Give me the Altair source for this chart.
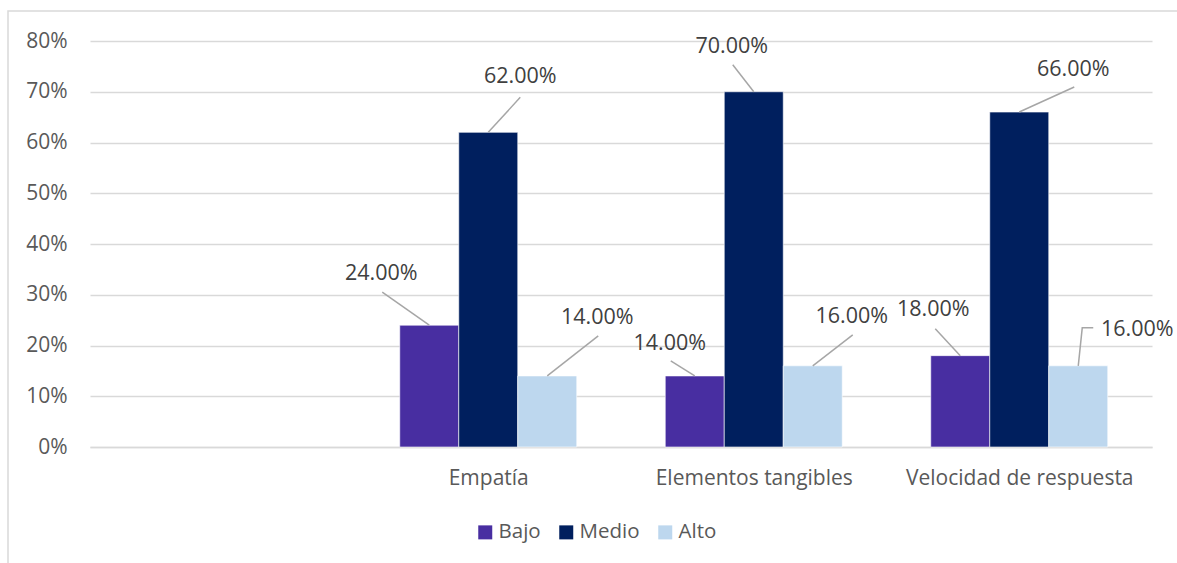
import altair as alt
import pandas as pd

# ---- data ----
categories = ["", "Empatía", "Elementos tangibles", "Velocidad de respuesta"]
series = ["Bajo", "Medio", "Alto"]
bajo = [None, 0.24, 0.14, 0.18]
medio = [None, 0.62, 0.70, 0.66]
alto = [None, 0.14, 0.16, 0.16]
colors = ["#482EA1", "#001F5E", "#BDD7EE"]

# ---- label placement (pixel offsets from each bar's top centre) ----
leader_pts = {
    ("Empatía", "Bajo"): [(-47, -33)],
    ("Empatía", "Medio"): [(32, -35)],
    ("Empatía", "Alto"): [(51, -40)],
    ("Elementos tangibles", "Bajo"): [(-24, -15)],
    ("Elementos tangibles", "Medio"): [(-21, -27)],
    ("Elementos tangibles", "Alto"): [(40, -31)],
    ("Velocidad de respuesta", "Bajo"): [(-25, -27)],
    ("Velocidad de respuesta", "Medio"): [(55, -25)],
    ("Velocidad de respuesta", "Alto"): [(4, -38), (15, -38)],
}
label_pos = {
    ("Empatía", "Bajo"): (-48, -51),
    ("Empatía", "Medio"): (32, -55),
    ("Empatía", "Alto"): (50, -58),
    ("Elementos tangibles", "Bajo"): (-25, -32),
    ("Elementos tangibles", "Medio"): (-22, -45),
    ("Elementos tangibles", "Alto"): (39, -49),
    ("Velocidad de respuesta", "Bajo"): (-27, -46),
    ("Velocidad de respuesta", "Medio"): (54, -42),
    ("Velocidad de respuesta", "Alto"): (59, -36),
}

W, H = 1062, 406
YMAX = 0.8
BAR_W = 2 / 9  # fraction of a category slot
px_x = W / len(categories)  # pixels per category unit
px_y = H / YMAX             # pixels per value unit

values = {"Bajo": bajo, "Medio": medio, "Alto": alto}
bars, lines, labels = [], [], []
for i, cat in enumerate(categories):
    for s, ser in enumerate(series):
        v = values[ser][i]
        if v is None:
            continue
        xc = i + 0.5 + (s - 1) * BAR_W
        bars.append({"cat": cat, "series": ser, "x": xc - BAR_W / 2,
                     "x2": xc + BAR_W / 2, "v": v, "base": 0.0})
        key = (cat, ser)
        pts = [(0, 0)] + leader_pts[key]
        for k, (dx, dy) in enumerate(pts):
            lines.append({"id": f"{cat}-{ser}", "k": k,
                          "x": xc + dx / px_x, "y": v - dy / px_y})
        lx, ly = label_pos[key]
        labels.append({"x": xc + lx / px_x, "y": v - ly / px_y,
                       "t": f"{v * 100:.2f}%"})

bars_df = pd.DataFrame(bars)
lines_df = pd.DataFrame(lines)
labels_df = pd.DataFrame(labels)

FONT = "Open Sans"
xscale = alt.Scale(domain=[0, len(categories)], nice=False, zero=False)
yscale = alt.Scale(domain=[0, YMAX], nice=False)

label_expr = " : ".join(
    f"datum.value == {i + 0.5} ? '{c}'" for i, c in enumerate(categories)
) + " : ''"

bar_layer = alt.Chart(bars_df).mark_bar(stroke="white", strokeWidth=0.6).encode(
    x=alt.X("x:Q", scale=xscale,
            axis=alt.Axis(values=[i + 0.5 for i in range(len(categories))],
                          labelExpr=label_expr, title=None, grid=False,
                          ticks=False, domain=True, domainColor="#D9D9D9",
                          domainWidth=1.5, labelLimit=500,
                          labelFont=FONT, labelFontSize=21, labelColor="#595959",
                          labelPadding=20)),
    x2="x2:Q",
    y=alt.Y("v:Q", scale=yscale,
            axis=alt.Axis(values=[i / 10 for i in range(9)], format=".0%",
                          title=None, domain=False, ticks=False,
                          gridColor="#D9D9D9", gridWidth=1.5,
                          labelFont=FONT, labelFontSize=21, labelColor="#595959",
                          labelPadding=23)),
    y2="base:Q",
    color=alt.Color("series:N",
                    scale=alt.Scale(domain=series, range=colors),
                    legend=alt.Legend(title=None, orient="none",
                                      direction="horizontal",
                                      legendX=385, legendY=481,
                                      symbolType="square", symbolSize=196,
                                      symbolStrokeWidth=0, labelOffset=3,
                                      columnPadding=15, padding=0,
                                      labelFont=FONT, labelFontSize=20.5,
                                      labelColor="#595959")),
)

line_layer = alt.Chart(lines_df).mark_line(color="#A6A6A6", strokeWidth=1.5).encode(
    x=alt.X("x:Q", scale=xscale),
    y=alt.Y("y:Q", scale=yscale),
    detail="id:N",
    order="k:O",
)

text_layer = alt.Chart(labels_df).mark_text(
    font=FONT, fontSize=21.5, color="#404040", baseline="middle", align="center"
).encode(
    x=alt.X("x:Q", scale=xscale),
    y=alt.Y("y:Q", scale=yscale),
    text="t:N",
)

frame = alt.Chart(pd.DataFrame({"a": [0]})).mark_rect(
    fill=None, stroke="#D9D9D9", strokeWidth=1.5
).encode(
    x=alt.value(-82), x2=alt.value(1120), y=alt.value(-30), y2=alt.value(560)
)

chart = alt.layer(frame, bar_layer, line_layer, text_layer).properties(
    width=W, height=H,
    padding={"left": 90, "top": 41, "right": 25, "bottom": 116},
    autosize=alt.AutoSizeParams(type="none"),
    background="white",
).configure_view(strokeWidth=0, stroke="transparent")

chart.save("out.html", embed_options={"renderer": "svg", "actions": False})
